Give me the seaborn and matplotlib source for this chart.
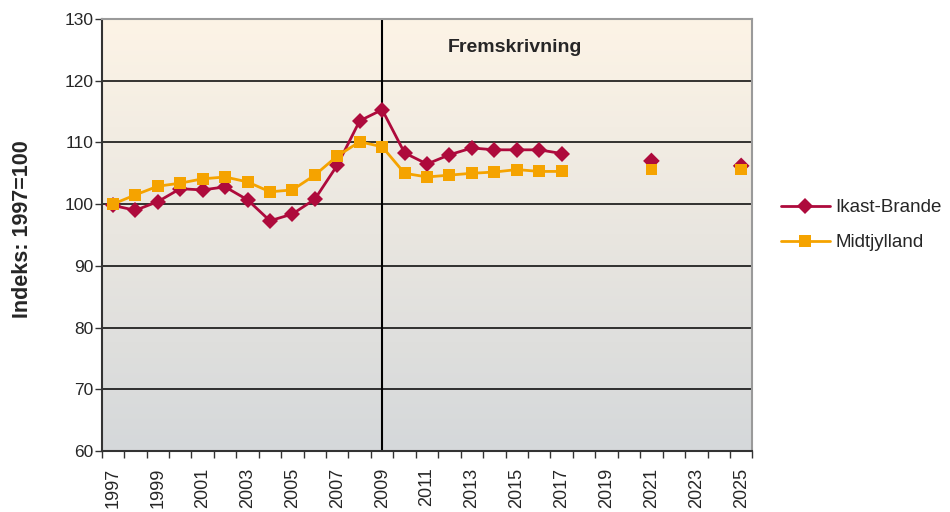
import numpy as np
import pandas as pd
import seaborn as sns
import matplotlib.pyplot as plt
from matplotlib.colors import LinearSegmentedColormap

# data (index 1997=100)
years = list(range(1997, 2018))
ikast = [99.8, 99.0, 100.4, 102.5, 102.3, 102.8, 100.7, 97.3, 98.4, 100.8, 106.3,
         113.5, 115.3, 108.3, 106.5, 108.0, 109.1, 108.8, 108.8, 108.8, 108.2]
midt = [100.0, 101.5, 102.9, 103.4, 104.1, 104.4, 103.6, 102.0, 102.3, 104.7, 107.8,
        110.1, 109.3, 105.0, 104.4, 104.7, 105.0, 105.2, 105.6, 105.3, 105.3]
later_years = [2021, 2025]
ikast_later = [107.0, 106.2]
midt_later = [105.6, 105.6]
regions = ["Ikast-Brande", "Midtjylland"]
colors = {"Ikast-Brande": "#AE0A3C", "Midtjylland": "#F5A300"}
markers = {"Ikast-Brande": "D", "Midtjylland": "s"}

df = pd.DataFrame({
    "year": years * 2,
    "value": ikast + midt,
    "region": [regions[0]] * len(years) + [regions[1]] * len(years),
})
df_later = pd.DataFrame({
    "year": later_years * 2,
    "value": ikast_later + midt_later,
    "region": [regions[0]] * 2 + [regions[1]] * 2,
})

sns.set_theme(style="white")
plt.rcParams['font.family'] = ['Liberation Sans', 'DejaVu Sans']

fig = plt.figure(figsize=(9.5, 5.12), dpi=100)
ax = fig.add_axes([0.107, 0.119, 0.685, 0.844])

# background gradient
cmap = LinearSegmentedColormap.from_list("bg", ["#FDF4E6", "#D5D8DA"])
grad = np.linspace(0, 1, 256).reshape(-1, 1)
ax.imshow(grad, cmap=cmap, aspect="auto", extent=[0, 1, 0, 1],
          transform=ax.transAxes, zorder=0)

for v in range(70, 130, 10):
    ax.axhline(v, color="black", lw=1.1, zorder=1)
ax.axvline(2009, color="black", lw=1.5, zorder=1)

sns.lineplot(data=df, x="year", y="value", hue="region", style="region",
             hue_order=regions, palette=colors, markers=markers, dashes=False,
             lw=2, markersize=8.5, mew=0, ax=ax, zorder=3)
sns.scatterplot(data=df_later, x="year", y="value", hue="region", style="region",
                hue_order=regions, palette=colors, markers=markers, s=72,
                linewidth=0, legend=False, ax=ax, zorder=3)

ax.set_xlim(1996.5, 2025.5)
ax.set_ylim(60, 130)
ax.set_yticks(range(60, 131, 10))
ax.set_xticks(range(1997, 2026, 2))
ax.set_xticklabels([str(y) for y in range(1997, 2026, 2)], rotation=90, fontsize=13)
ax.set_xticks(np.arange(1996.5, 2026, 1), minor=True)
ax.tick_params(axis="x", which="major", length=0, pad=12)
ax.tick_params(axis="x", which="minor", length=5, width=1, color="#333333", direction="out", bottom=True)
ax.tick_params(axis="y", length=5, width=1, color="#333333", direction="out", left=True, labelsize=12.5, pad=1)
ax.set_xlabel("")
ax.set_ylabel("Indeks: 1997=100", fontsize=15.5, fontweight="bold")
ax.yaxis.set_label_coords(-0.105, 0.514)

for side in ["left", "bottom"]:
    ax.spines[side].set_color("#333333")
    ax.spines[side].set_linewidth(1.5)
for side in ["top", "right"]:
    ax.spines[side].set_color("#9A9A9A")
    ax.spines[side].set_linewidth(1.5)

ax.text(2014.9, 125.3, "Fremskrivning", fontsize=14, fontweight="bold",
        ha="center", va="center", zorder=4)

handles, labels = ax.get_legend_handles_labels()
ax.legend(handles, labels, loc="center left", bbox_to_anchor=(0.812, 0.56),
          bbox_transform=fig.transFigure, frameon=False, fontsize=13.5,
          borderpad=0, handlelength=2.6, handletextpad=0.3, labelspacing=0.95)

fig.savefig("out.png", dpi=100)
